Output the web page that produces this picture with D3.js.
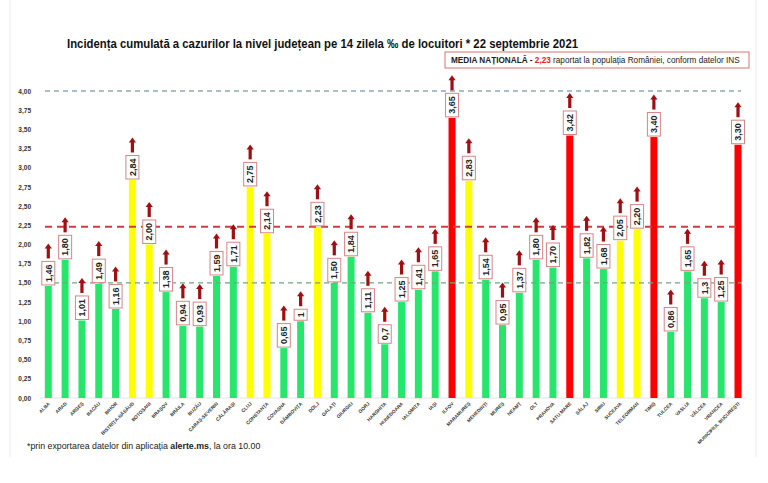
<!DOCTYPE html>
<html><head><meta charset="utf-8">
<script src="https://cdn.jsdelivr.net/npm/d3@7"></script>
<style>body{margin:0;background:#fff}svg{display:block}</style>
</head><body>
<script>
const categories = ["ALBA","ARAD","ARGEȘ","BACĂU","BIHOR","BISTRIȚA-NĂSĂUD","BOTOȘANI","BRAȘOV","BRĂILA","BUZĂU","CARAȘ-SEVERIN","CĂLĂRAȘI","CLUJ","CONSTANȚA","COVASNA","DÂMBOVIȚA","DOLJ","GALAȚI","GIURGIU","GORJ","HARGHITA","HUNEDOARA","IALOMIȚA","IAȘI","ILFOV","MARAMUREȘ","MEHEDINȚI","MUREȘ","NEAMȚ","OLT","PRAHOVA","SATU MARE","SĂLAJ","SIBIU","SUCEAVA","TELEORMAN","TIMIȘ","TULCEA","VASLUI","VÂLCEA","VRANCEA","MUNICIPIUL BUCUREȘTI"];
const values = [1.46,1.80,1.01,1.49,1.16,2.84,2.00,1.38,0.94,0.93,1.59,1.71,2.75,2.14,0.65,1.00,2.23,1.50,1.84,1.11,0.70,1.25,1.41,1.65,3.65,2.83,1.54,0.95,1.37,1.80,1.70,3.42,1.82,1.68,2.05,2.20,3.40,0.86,1.65,1.30,1.25,3.30];
const valueLabels = ["1,46","1,80","1,01","1,49","1,16","2,84","2,00","1,38","0,94","0,93","1,59","1,71","2,75","2,14","0,65","1","2,23","1,50","1,84","1,11","0,7","1,25","1,41","1,65","3,65","2,83","1,54","0,95","1,37","1,80","1,70","3,42","1,82","1,68","2,05","2,20","3,40","0,86","1,65","1,3","1,25","3,30"];
const yTicks = [0,0.25,0.5,0.75,1,1.25,1.5,1.75,2,2.25,2.5,2.75,3,3.25,3.5,3.75,4];
const refLines = [{v:4.0,color:"#8eaabb",w:1.3},{v:2.23,color:"#d23c3c",w:2},{v:1.5,color:"#6fa882",w:1.3}];
const titleText = "Incidența cumulată a cazurilor la nivel județean pe 14 zilela ‰ de locuitori * 22 septembrie 2021";
const nationalAvg = "2,23";

const W=768,H=483;
const svg=d3.select("body").append("svg").attr("width",W).attr("height",H).style("font-family","'Liberation Sans',Arial,sans-serif");

// slide borders
svg.append("line").attr("x1",10).attr("x2",10).attr("y1",0).attr("y2",457).attr("stroke","#ececec");
svg.append("line").attr("x1",756).attr("x2",756).attr("y1",0).attr("y2",457).attr("stroke","#ececec");

const x=d3.scalePoint().domain(categories).range([48.3,738]);
const y=d3.scaleLinear().domain([0,4]).range([398,91]);
const color=v=> v>=3 ? "#ff0000" : v>=2 ? "#ffff00" : "#26e76c";

// title
svg.append("text").attr("x",67).attr("y",48).attr("font-weight","bold").attr("font-size",12.5)
  .attr("textLength",511).attr("lengthAdjust","spacingAndGlyphs").attr("fill","#111").text(titleText);

// y axis
const ya=svg.append("g").attr("transform","translate(33,0)")
  .call(d3.axisLeft(y).tickValues(yTicks).tickSize(0).tickPadding(2).tickFormat(d=>d3.format(".2f")(d).replace(".",",")));
ya.select(".domain").remove();
ya.selectAll("text").attr("font-size",6.5).attr("font-weight","bold").attr("fill","#333").attr("font-family","'Liberation Sans',Arial,sans-serif");

// baseline
svg.append("line").attr("x1",40).attr("x2",746).attr("y1",y(0)).attr("y2",y(0)).attr("stroke","#e4e4e4");

// bars
const data=categories.map((c,i)=>({c,v:values[i],l:valueLabels[i]}));
svg.append("g").selectAll("rect").data(data).join("rect")
  .attr("x",d=>x(d.c)-3.5).attr("width",7).attr("y",d=>y(d.v)).attr("height",d=>y(0)-y(d.v)).attr("fill",d=>color(d.v));

// ref lines
svg.append("g").selectAll("line").data(refLines).join("line")
  .attr("x1",45).attr("x2",741).attr("y1",d=>y(d.v)).attr("y2",d=>y(d.v))
  .attr("stroke",d=>d.color).attr("stroke-width",d=>d.w).attr("stroke-dasharray",d=>d.v===2.23?"7,5":"5,4");

// labels with boxes and arrows
const lg=svg.append("g");
data.forEach(d=>{
  const cx=x(d.c);
  const g=lg.append("g");
  const t=g.append("text").attr("font-size",9).attr("font-weight","bold").attr("fill","#222")
    .attr("text-anchor","middle").text(d.l);
  const tw=t.node().getComputedTextLength();
  const bh=tw+6, bw=13;
  const bottom=y(d.v)-1, top=bottom-bh;
  g.insert("rect","text").attr("x",cx-bw/2).attr("y",top).attr("width",bw).attr("height",bh)
    .attr("fill","#fff").attr("stroke","#d98585").attr("stroke-width",1);
  t.attr("transform",`translate(${cx+3.2},${top+bh/2}) rotate(-90)`);
  const ab=top-3, at=ab-15;
  g.append("rect").attr("x",cx-1.6).attr("y",at+4).attr("width",3.2).attr("height",ab-at-4).attr("fill","#a00f12");
  g.append("path").attr("d",`M${cx-3.6},${at+5}L${cx},${at}L${cx+3.6},${at+5}Z`).attr("fill","#a00f12");
});

// x labels
svg.append("g").selectAll("text").data(categories).join("text")
  .attr("transform",d=>`translate(${x(d)+2},${y(0)+6}) rotate(-45)`)
  .attr("text-anchor","end").attr("font-size",4.8).attr("font-weight","bold").attr("fill","#333").text(d=>d);

// national average box
svg.append("rect").attr("x",445).attr("y",52).attr("width",304).attr("height",16)
  .attr("fill","#fff").attr("stroke","#d97272").attr("stroke-width",1);
const mt=svg.append("text").attr("x",451).attr("y",63.3).attr("font-size",8.2).attr("fill","#222");
mt.append("tspan").attr("font-weight","bold").text("MEDIA NAȚIONALĂ  - ");
mt.append("tspan").attr("font-weight","bold").attr("fill","#e02020").text(nationalAvg);
mt.append("tspan").text(" raportat la populația României, conform datelor INS");

// footnote
const ft=svg.append("text").attr("x",27).attr("y",449).attr("font-size",8.8).attr("fill","#222");
ft.append("tspan").text("*prin exportarea datelor din aplicația ");
ft.append("tspan").attr("font-weight","bold").text("alerte.ms");
ft.append("tspan").text(", la ora 10.00");
</script>
</body></html>
